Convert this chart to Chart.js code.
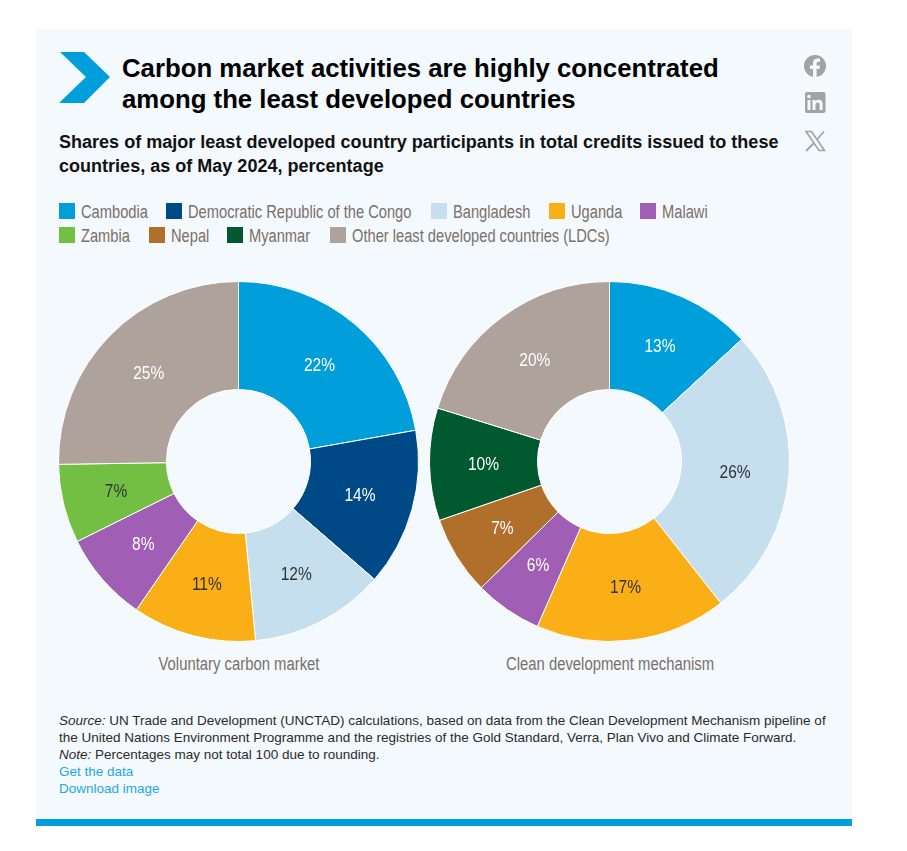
<!DOCTYPE html>
<html>
<head>
<meta charset="utf-8">
<script src="https://cdn.jsdelivr.net/npm/chart.js@4"></script>
<style>
  html, body { margin: 0; padding: 0; background: #fff; }
  #page { position: relative; width: 907px; height: 851px; overflow: hidden; }
  #panel { position: absolute; left: 36px; top: 29px; width: 816px; height: 790px; background: #f3f9fd; }
  #bar { position: absolute; left: 36px; top: 819px; width: 816px; height: 7px; background: #009edb; }
  .abs { position: absolute; white-space: nowrap; font-family: "Liberation Sans", Arial, sans-serif; }
  #title { left: 122px; top: 53px; font-size: 25.75px; line-height: 31px; font-weight: bold; color: #000; }
  #subtitle { left: 59px; top: 130px; font-size: 18.05px; line-height: 24px; font-weight: bold; color: #111; }
  #notes { left: 59px; top: 712px; font-size: 13.5px; line-height: 17px; color: #2b2b2b; }
  #notes a { color: #1fa9e1; text-decoration: none; }
  /* no narrow font installed, so the regular face gets squeezed */
  .leg { position: absolute; white-space: nowrap; font-family: "Liberation Sans", sans-serif; font-size: 18px; line-height: 20px; color: #7a706a; transform-origin: 0 50%; transform: scaleX(0.815); }
  .cap { position: absolute; top: 654px; white-space: nowrap; font-family: "Liberation Sans", sans-serif; font-size: 18px; line-height: 20px; color: #7a706a; transform: translateX(-50%) scaleX(0.825); }
  .sw { position: absolute; width: 16px; height: 16px; }
  canvas { position: absolute; }
</style>
</head>
<body>
<div id="page">
  <div id="panel"></div>
  <div id="bar"></div>
  <svg class="abs" style="left:0;top:0" width="907" height="851">
    <polygon points="60,52 84,52 110,77 84,103 59,103 86,77" fill="#009edb"/>
    <!-- facebook -->
    <circle cx="815" cy="66" r="11" fill="#a3a3a3"/>
    <path d="M813 77 V69 H810 V65.5 H813 V63 C813 60 815 58.5 817.5 58.5 L820 58.8 V61.8 H818.5 C817 61.8 816.6 62.6 816.6 63.6 V65.5 H820 L819.4 69 H816.6 V77 Z" fill="#f3f9fd"/>
    <!-- linkedin -->
    <rect x="805" y="92" width="20.5" height="21" rx="2" fill="#a3a3a3"/>
    <rect x="807.5" y="100" width="3" height="10" fill="#f3f9fd"/>
    <circle cx="809" cy="96.5" r="1.8" fill="#f3f9fd"/>
    <path d="M812.5 100 H815.4 V101.4 C816 100.4 817.2 99.8 818.6 99.8 C821.6 99.8 822.6 101.6 822.6 104.4 V110 H819.6 V105 C819.6 103.6 819.2 102.4 817.8 102.4 C816.2 102.4 815.5 103.4 815.5 105 V110 H812.5 Z" fill="#f3f9fd"/>
    <!-- x -->
    <path d="M806 131.5 H811.5 L824.5 150.5 H819 Z" fill="none" stroke="#a3a3a3" stroke-width="1.6"/>
    <path d="M824 131.5 L816.5 140 M813.5 143.5 L806 151" fill="none" stroke="#a3a3a3" stroke-width="1.8"/>
  </svg>
  <div id="title" class="abs">Carbon market activities are highly concentrated<br>among the least developed countries</div>
  <div id="subtitle" class="abs">Shares of major least developed country participants in total credits issued to these<br>countries, as of May 2024, percentage</div>
  <div id="legend"></div>
  <canvas id="chart-voluntary" style="left:58px;top:281px" width="361" height="361"></canvas>
  <canvas id="chart-clean" style="left:429px;top:281px" width="361" height="361"></canvas>
  <div class="cap" style="left:239px">Voluntary carbon market</div>
  <div class="cap" style="left:609.5px">Clean development mechanism</div>
  <div id="notes" class="abs"><i>Source:</i> UN Trade and Development (UNCTAD) calculations, based on data from the Clean Development Mechanism pipeline of<br>the United Nations Environment Programme and the registries of the Gold Standard, Verra, Plan Vivo and Climate Forward.<br><i>Note:</i> Percentages may not total 100 due to rounding.<br><a href="#">Get the data</a><br><a href="#">Download image</a></div>
</div>
<script>
const voluntaryLabels = ['Cambodia', 'Democratic Republic of the Congo', 'Bangladesh', 'Uganda', 'Malawi', 'Zambia', 'Other least developed countries (LDCs)'];
const voluntaryValues = [22, 14, 12, 11, 8, 7, 25];
const voluntaryColors = ['#009edb', '#004987', '#c5dfef', '#fbaf17', '#a05fb4', '#72bf44', '#aea29a'];
const voluntaryText = ['#fff', '#fff', '#333', '#333', '#fff', '#333', '#fff'];

const cleanLabels = ['Cambodia', 'Bangladesh', 'Uganda', 'Malawi', 'Nepal', 'Myanmar', 'Other least developed countries (LDCs)'];
const cleanValues = [13, 26, 17, 6, 7, 10, 20];
const cleanColors = ['#009edb', '#c5dfef', '#fbaf17', '#a05fb4', '#b06f2a', '#00592f', '#aea29a'];
const cleanText = ['#fff', '#333', '#333', '#fff', '#fff', '#fff', '#fff'];

const legendNames = ['Cambodia', 'Democratic Republic of the Congo', 'Bangladesh', 'Uganda', 'Malawi', 'Zambia', 'Nepal', 'Myanmar', 'Other least developed countries (LDCs)'];
const legendColors = ['#009edb', '#004987', '#c5dfef', '#fbaf17', '#a05fb4', '#72bf44', '#b06f2a', '#00592f', '#aea29a'];
const legendSwatchX = [59, 166, 431, 549, 640, 59, 149, 227, 330];
const legendRowY = [203, 203, 203, 203, 203, 227, 227, 227, 227];

const legendBox = document.getElementById('legend');
legendNames.forEach((name, i) => {
  const sw = document.createElement('div');
  sw.className = 'sw';
  sw.style.left = legendSwatchX[i] + 'px';
  sw.style.top = legendRowY[i] + 'px';
  sw.style.background = legendColors[i];
  legendBox.appendChild(sw);
  const t = document.createElement('div');
  t.className = 'leg';
  t.textContent = name;
  t.style.left = (legendSwatchX[i] + 22) + 'px';
  t.style.top = (legendRowY[i] - 1) + 'px';
  legendBox.appendChild(t);
});

// percent labels in the middle of each ring slice
const sliceLabels = {
  id: 'sliceLabels',
  afterDatasetsDraw(chart, args, opts) {
    const ctx = chart.ctx;
    const meta = chart.getDatasetMeta(0);
    ctx.save();
    ctx.font = '18.5px "Liberation Sans", sans-serif';
    ctx.textAlign = 'center';
    ctx.textBaseline = 'middle';
    meta.data.forEach((arc, i) => {
      const pos = arc.tooltipPosition();
      ctx.save();
      ctx.translate(pos.x, pos.y + 1);
      ctx.scale(0.84, 1);
      ctx.fillStyle = opts.colors[i];
      ctx.fillText(chart.data.datasets[0].data[i] + '%', 0, 0);
      ctx.restore();
    });
    ctx.restore();
  }
};

function makeRing(id, labels, values, colors, textColors) {
  new Chart(document.getElementById(id), {
    type: 'doughnut',
    data: {
      labels: labels,
      datasets: [{
        data: values,
        backgroundColor: colors,
        borderColor: '#ffffff',
        borderWidth: 1,
        hoverOffset: 0
      }]
    },
    plugins: [sliceLabels],
    options: {
      responsive: false,
      animation: false,
      cutout: '40%',
      layout: { padding: 0 },
      plugins: {
        legend: { display: false },
        tooltip: { enabled: false },
        sliceLabels: { colors: textColors }
      }
    }
  });
}

makeRing('chart-voluntary', voluntaryLabels, voluntaryValues, voluntaryColors, voluntaryText);
makeRing('chart-clean', cleanLabels, cleanValues, cleanColors, cleanText);
</script>
</body>
</html>
